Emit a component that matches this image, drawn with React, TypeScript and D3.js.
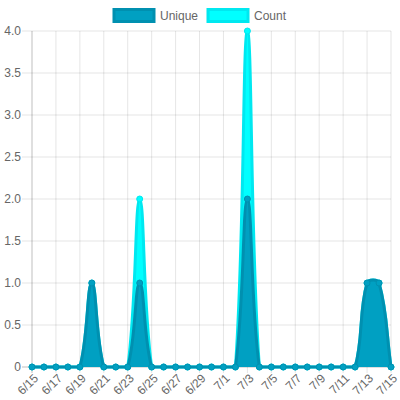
import React from "react";
import * as d3 from "d3";

const dates = ["6/15","6/16","6/17","6/18","6/19","6/20","6/21","6/22","6/23","6/24","6/25","6/26","6/27","6/28","6/29","6/30","7/1","7/2","7/3","7/4","7/5","7/6","7/7","7/8","7/9","7/10","7/11","7/12","7/13","7/14","7/15"];
const uniqueValues = [0,0,0,0,0,1,0,0,0,1,0,0,0,0,0,0,0,0,2,0,0,0,0,0,0,0,0,0,1,1,0];
const countValues = [0,0,0,0,0,1,0,0,0,2,0,0,0,0,0,0,0,0,4,0,0,0,0,0,0,0,0,0,1,1,0];
const yTicks = [0,0.5,1,1.5,2,2.5,3,3.5,4];
const yTickLabels = ["0","0.5","1.0","1.5","2.0","2.5","3.0","3.5","4.0"];

const W = 400, H = 400;
const area = { left: 32, right: 391, top: 31, bottom: 367 };
const FONT = "'Liberation Sans', Arial, sans-serif";

const series = [
  { name: "Unique", values: uniqueValues, fill: "#00a0c2", stroke: "#0090b0" },
  { name: "Count", values: countValues, fill: "#00ffff", stroke: "#00e8f0" },
];

type P = { x: number; y: number; cpx0?: number; cpy0?: number; cpx1?: number; cpy1?: number };

function splinePath(pts: P[], tension: number, baseY: number | null) {
  const clampX = (v: number) => Math.max(area.left, Math.min(area.right, v));
  const clampY = (v: number) => Math.max(area.top, Math.min(area.bottom, v));
  const n = pts.length;
  for (let i = 0; i < n; i++) {
    const prev = pts[Math.max(0, i - 1)];
    const cur = pts[i];
    const next = pts[Math.min(n - 1, i + 1)];
    const d01 = Math.hypot(cur.x - prev.x, cur.y - prev.y);
    const d12 = Math.hypot(next.x - cur.x, next.y - cur.y);
    let s01 = d01 / (d01 + d12);
    let s12 = d12 / (d01 + d12);
    if (isNaN(s01)) s01 = 0;
    if (isNaN(s12)) s12 = 0;
    const fa = tension * s01, fb = tension * s12;
    cur.cpx0 = clampX(cur.x - fa * (next.x - prev.x));
    cur.cpy0 = clampY(cur.y - fa * (next.y - prev.y));
    cur.cpx1 = clampX(cur.x + fb * (next.x - prev.x));
    cur.cpy1 = clampY(cur.y + fb * (next.y - prev.y));
  }
  const p = d3.path();
  p.moveTo(pts[0].x, pts[0].y);
  for (let i = 1; i < n; i++) {
    const a = pts[i - 1], b = pts[i];
    p.bezierCurveTo(a.cpx1!, a.cpy1!, b.cpx0!, b.cpy0!, b.x, b.y);
  }
  if (baseY !== null) {
    p.lineTo(pts[n - 1].x, baseY);
    p.lineTo(pts[0].x, baseY);
    p.closePath();
  }
  return p.toString();
}

export default function App() {
  const x = d3.scalePoint<string>().domain(dates).range([area.left, area.right]);
  const y = d3.scaleLinear().domain([0, 4]).range([area.bottom, area.top]);
  const shownDates = dates.filter((_, i) => i % 2 === 0);

  const legendItems = [
    { s: series[0], boxX: 114, textX: 160 },
    { s: series[1], boxX: 208, textX: 254 },
  ];

  const drawOrder = [series[1], series[0]];

  return (
    <svg width={W} height={H} style={{ position: "absolute", left: 0, top: 0 }} fontFamily={FONT}>
      <rect width={W} height={H} fill="#fff" />
      {/* horizontal grid */}
      {yTicks.map((t, i) => (
        <line key={"hg" + i} x1={area.left - 10} x2={area.right} y1={y(t)} y2={y(t)}
          stroke={t === 0 ? "rgba(0,0,0,0.25)" : "rgba(0,0,0,0.1)"} strokeWidth={1} />
      ))}
      {/* vertical grid */}
      {shownDates.map((d, i) => (
        <line key={"vg" + i} x1={x(d)!} x2={x(d)!} y1={area.top} y2={area.bottom + 6}
          stroke={i === 0 ? "rgba(0,0,0,0.25)" : "rgba(0,0,0,0.1)"} strokeWidth={1} />
      ))}
      {/* y labels */}
      {yTicks.map((t, i) => (
        <text key={"yl" + i} x={area.left - 11} y={y(t)} dy="0.35em" textAnchor="end"
          fontSize={12} fill="#666">{yTickLabels[i]}</text>
      ))}
      {/* x labels */}
      {shownDates.map((d, i) => (
        <text key={"xl" + i} transform={`translate(${x(d)! + 4},${area.bottom + 9}) rotate(-45)`}
          textAnchor="end" dy="0.35em" fontSize={12} fill="#666">{d}</text>
      ))}
      {/* series */}
      {drawOrder.map((s) => {
        const pts: P[] = s.values.map((v, i) => ({ x: x(dates[i])!, y: y(v) }));
        return (
          <g key={s.name}>
            <path d={splinePath(pts.map((p) => ({ ...p })), 0.4, y(0))} fill={s.fill} stroke="none" />
            <path d={splinePath(pts.map((p) => ({ ...p })), 0.4, null)} fill="none" stroke={s.stroke} strokeWidth={3} />
            {pts.map((p, i) => (
              <circle key={i} cx={p.x} cy={p.y} r={3} fill={s.fill} stroke={s.stroke} strokeWidth={1} />
            ))}
          </g>
        );
      })}
      {/* legend */}
      {legendItems.map(({ s, boxX, textX }) => (
        <g key={"lg" + s.name}>
          <rect x={boxX} y={9.5} width={40} height={12} fill={s.fill} stroke={s.stroke} strokeWidth={3} />
          <text x={textX} y={15.5} dy="0.35em" fontSize={12} fill="#666">{s.name}</text>
        </g>
      ))}
    </svg>
  );
}
